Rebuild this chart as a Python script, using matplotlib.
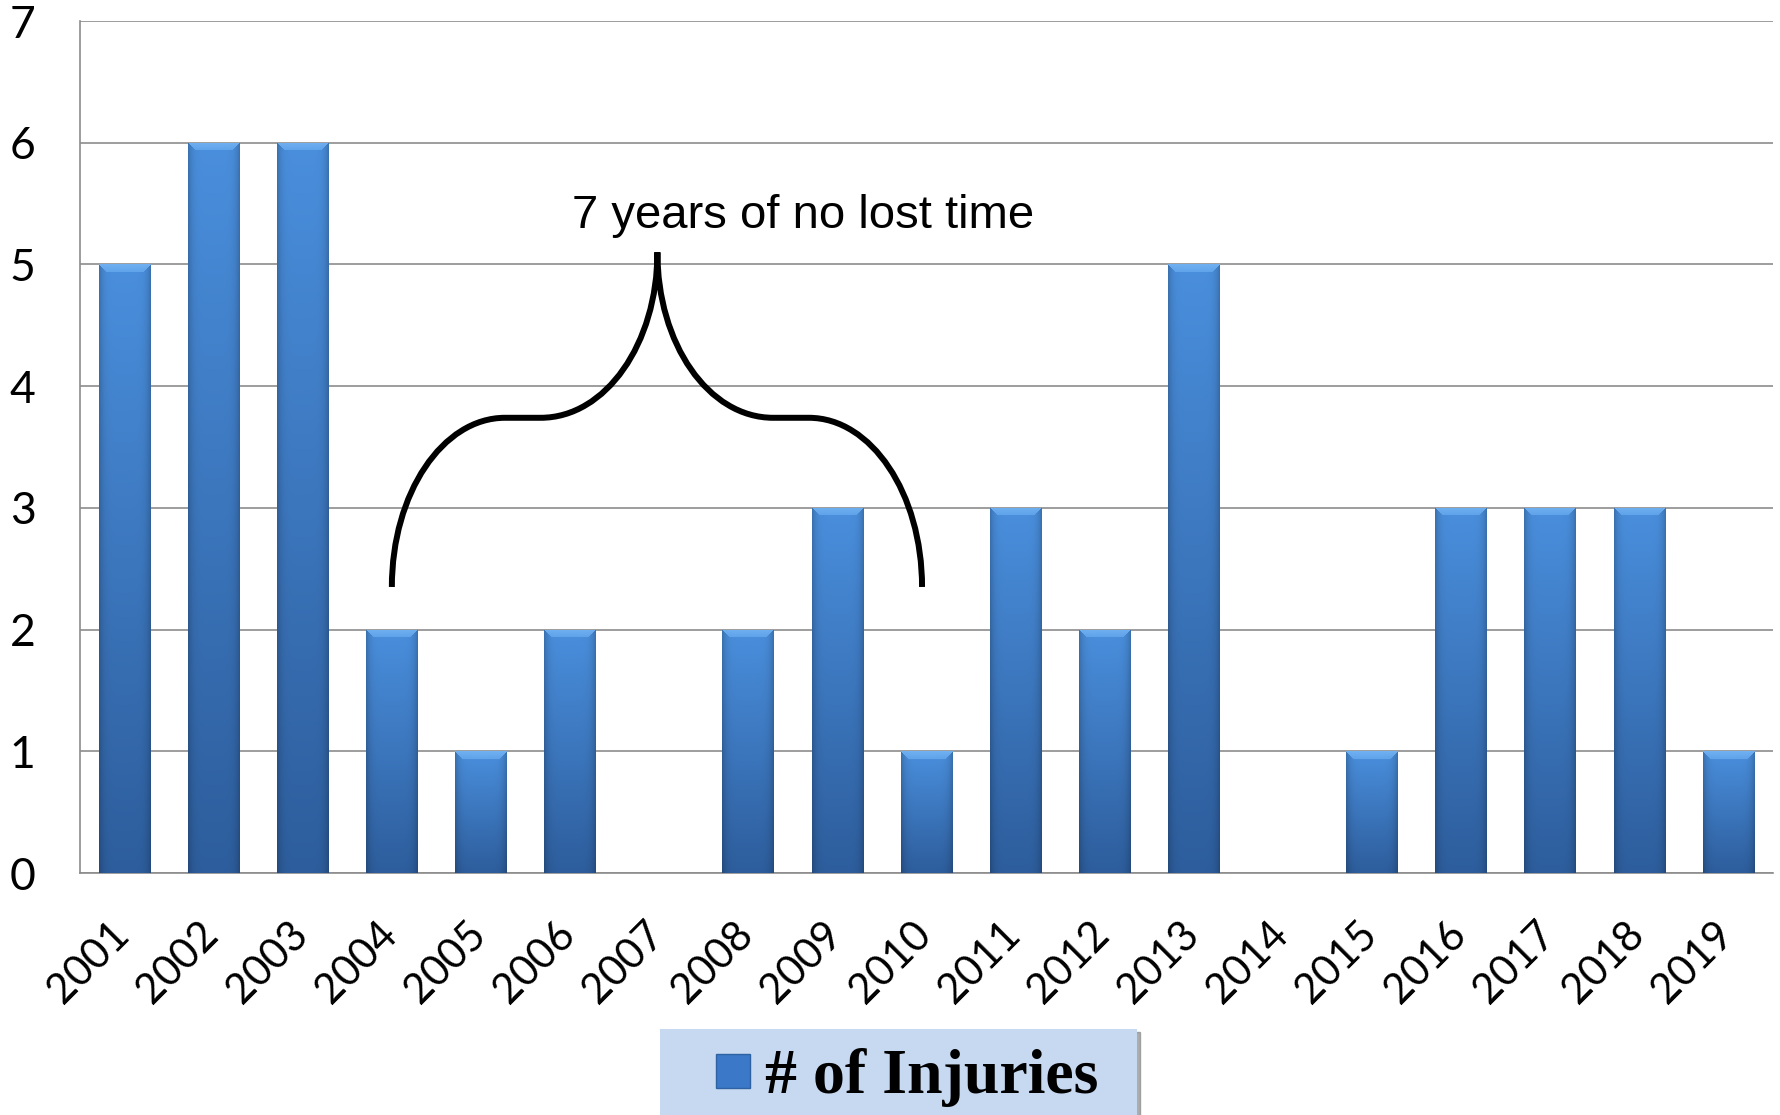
import matplotlib
matplotlib.use("Agg")
import matplotlib.pyplot as plt
import matplotlib.transforms as mtransforms
import numpy as np
from matplotlib.path import Path
from matplotlib.patches import PathPatch
from matplotlib.lines import Line2D
from matplotlib.colors import to_rgb

years = ['2001', '2002', '2003', '2004', '2005', '2006', '2007', '2008', '2009', '2010',
         '2011', '2012', '2013', '2014', '2015', '2016', '2017', '2018', '2019']
injuries = [5, 6, 6, 2, 1, 2, 0, 2, 3, 1, 3, 2, 5, 0, 1, 3, 3, 3, 1]
yticks = [0, 1, 2, 3, 4, 5, 6, 7]
series_name = '# of Injuries'
note = '7 years of no lost time'

top_col = np.array(to_rgb('#4A8FDD'))
bot_col = np.array(to_rgb('#2D5D9C'))
hi_col = np.array(to_rgb('#6FB0F2'))


def bar_image(h, ncols=52, px_per_unit=121.7):
    # vertical gradient with darker edges and a bevelled top
    nrows = max(int(h * px_per_unit), 2)
    t = np.linspace(0, 1, nrows)[:, None, None]
    img = top_col * (1 - t) + bot_col * t
    img = np.repeat(img, ncols, axis=1)
    xs = np.linspace(-1, 1, ncols)
    shade = 1 - 0.2 * np.abs(xs) ** 6
    img = img * shade[None, :, None]
    bev = 8
    for r in range(min(bev, nrows)):
        lo, hi = r, ncols - r
        img[r, lo:hi] = hi_col * (1 - r / bev * 0.4) + img[r, lo:hi] * (r / bev * 0.4)
    return np.clip(img, 0, 1)


def create_plot():
    fig = plt.figure(figsize=(17.81, 11.15), dpi=100)
    ax = fig.add_axes([80 / 1781, 1 - 873 / 1115, 1693 / 1781, 852 / 1115])
    x = np.arange(len(years))
    bars = ax.bar(x, injuries, width=0.58, color='#3B78C8', zorder=3)
    for b, v in zip(bars, injuries):
        if v <= 0:
            continue
        x0, w = b.get_x(), b.get_width()
        im = ax.imshow(bar_image(v), extent=(x0, x0 + w, 0, v), aspect='auto',
                       origin='upper', zorder=3.5, interpolation='bilinear')
        im.set_clip_path(b)

    ax.set_xlim(-0.5, len(years) - 0.5)
    ax.set_ylim(0, 7)
    ax.set_yticks(yticks)
    ax.set_xticks(x)
    ax.set_xticklabels(years, rotation=45, ha='right', rotation_mode='default')
    ax.yaxis.grid(True, color='#8C8C8C', linewidth=1.2)
    ax.set_axisbelow(True)
    for s in ['top', 'right']:
        ax.spines[s].set_visible(False)
    for s in ['left', 'bottom']:
        ax.spines[s].set_color('#8C8C8C')
        ax.spines[s].set_linewidth(1.2)
    ax.tick_params(axis='both', length=0)
    ax.tick_params(axis='y', pad=32, labelsize=32)
    ax.tick_params(axis='x', pad=30, labelsize=30)
    shift = mtransforms.ScaledTranslation(0.12, 0, fig.dpi_scale_trans)
    for lab in ax.get_xticklabels():
        lab.set_family(['Lato', 'DejaVu Sans'])
        lab.set_transform(lab.get_transform() + shift)
    for lab in ax.get_yticklabels():
        lab.set_family(['Lato', 'DejaVu Sans'])

    # curly brace over 2004-2010
    verts = [(3.0, 2.35), (3.0, 3.12), (3.57, 3.74), (4.27, 3.74),
             (4.67, 3.74),
             (5.40, 3.74), (5.98, 4.35), (5.98, 5.10),
             (5.98, 4.35), (6.55, 3.74), (7.28, 3.74),
             (7.68, 3.74),
             (8.38, 3.74), (8.95, 3.12), (8.95, 2.35)]
    codes = [Path.MOVETO, Path.CURVE4, Path.CURVE4, Path.CURVE4,
             Path.LINETO,
             Path.CURVE4, Path.CURVE4, Path.CURVE4,
             Path.CURVE4, Path.CURVE4, Path.CURVE4,
             Path.LINETO,
             Path.CURVE4, Path.CURVE4, Path.CURVE4]
    ax.add_patch(PathPatch(Path(verts, codes), facecolor='none', edgecolor='black',
                           linewidth=4.3, zorder=5, clip_on=False))
    ax.text(7.61, 5.30, note, ha='center', va='baseline', fontsize=34,
            family=['Liberation Sans', 'DejaVu Sans'], zorder=6)

    handle = Line2D([], [], linestyle='none', marker='s', markersize=24,
                    markerfacecolor='#3B78C8', markeredgecolor='#2F62A3', markeredgewidth=1)
    leg = fig.legend([handle], [series_name], loc='upper left',
                     bbox_to_anchor=(660 / 1781, 1 - 1029 / 1115, 477 / 1781, 0),
                     mode='expand', borderaxespad=0,
                     prop={'family': 'Liberation Serif', 'weight': 'bold', 'size': 46},
                     frameon=True, fancybox=False, shadow={'color': '#8a8a8a', 'alpha': 0.7},
                     borderpad=0.3, handlelength=1.7, handletextpad=-0.35)
    leg.get_frame().set_facecolor('#C6D9F1')
    leg.get_frame().set_edgecolor('none')
    leg.get_frame().set_alpha(1)

    fig.savefig('out.png', dpi=100)


create_plot()
